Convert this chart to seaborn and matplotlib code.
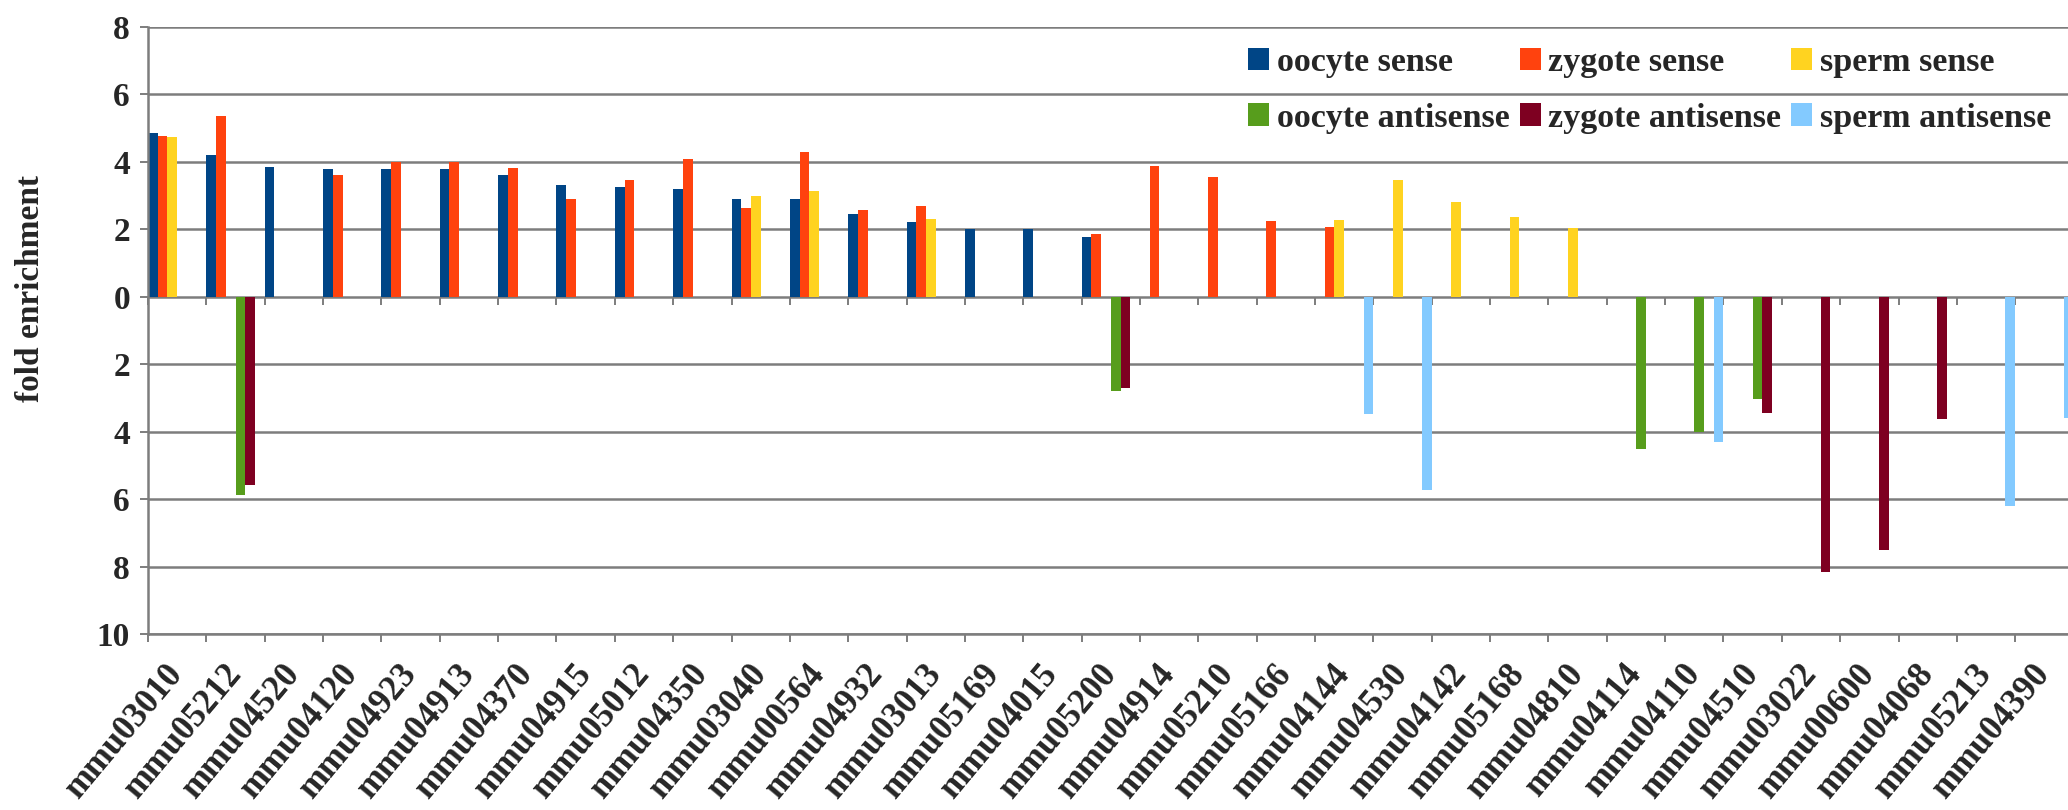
import matplotlib
matplotlib.use('Agg')
import matplotlib.pyplot as plt
import numpy as np
import pandas as pd
import seaborn as sns
from matplotlib.patches import Patch
from matplotlib.ticker import FuncFormatter

sns.set_style('white')
plt.rcParams['font.family'] = ['Liberation Serif', 'DejaVu Serif']
plt.rcParams['font.weight'] = 'bold'
plt.rcParams['font.size'] = 24

nan = np.nan

pathways = ['mmu03010', 'mmu05212', 'mmu04520', 'mmu04120', 'mmu04923', 'mmu04913',
            'mmu04370', 'mmu04915', 'mmu05012', 'mmu04350', 'mmu03040', 'mmu00564',
            'mmu04932', 'mmu03013', 'mmu05169', 'mmu04015', 'mmu05200', 'mmu04914',
            'mmu05210', 'mmu05166', 'mmu04144', 'mmu04530', 'mmu04142', 'mmu05168',
            'mmu04810', 'mmu04114', 'mmu04110', 'mmu04510', 'mmu03022', 'mmu00600',
            'mmu04068', 'mmu05213', 'mmu04390']

# sense = above zero, antisense = below zero
oocyte_sense = [4.87, 4.21, 3.85, 3.80, 3.80, 3.79, 3.60, 3.31, 3.26, 3.20, 2.90, 2.90,
                2.45, 2.23, 2.02, 2.02, 1.77, nan, nan, nan, nan, nan, nan, nan,
                nan, nan, nan, nan, nan, nan, nan, nan, nan]
zygote_sense = [4.77, 5.35, nan, 3.62, 4.01, 4.01, 3.82, 2.91, 3.46, 4.09, 2.64, 4.28,
                2.58, 2.70, nan, nan, 1.87, 3.89, 3.56, 2.26, 2.07, nan, nan, nan,
                nan, nan, nan, nan, nan, nan, nan, nan, nan]
sperm_sense = [4.75, nan, nan, nan, nan, nan, nan, nan, nan, nan, 3.00, 3.15,
               nan, 2.32, nan, nan, nan, nan, nan, nan, 2.29, 3.45, 2.80, 2.37,
               2.05, nan, nan, nan, nan, nan, nan, nan, nan]
oocyte_antisense = [nan, -5.87, nan, nan, nan, nan, nan, nan, nan, nan, nan, nan,
                    nan, nan, nan, nan, -2.80, nan, nan, nan, nan, nan, nan, nan,
                    nan, -4.52, -4.00, -3.02, nan, nan, nan, nan, nan]
zygote_antisense = [nan, -5.58, nan, nan, nan, nan, nan, nan, nan, nan, nan, nan,
                    nan, nan, nan, nan, -2.70, nan, nan, nan, nan, nan, nan, nan,
                    nan, nan, nan, -3.45, -8.17, -7.50, -3.62, nan, nan]
sperm_antisense = [nan, nan, nan, nan, nan, nan, nan, nan, nan, nan, nan, nan,
                   nan, nan, nan, nan, nan, nan, nan, nan, -3.47, -5.72, nan, nan,
                   nan, nan, -4.31, nan, nan, nan, nan, -6.20, -3.60]

series_names = ['oocyte sense', 'zygote sense', 'sperm sense',
                'oocyte antisense', 'zygote antisense', 'sperm antisense']
series_colors = ['#004586', '#FF420E', '#FFD320', '#579D1C', '#7E0021', '#83CAFF']
series_values = [oocyte_sense, zygote_sense, sperm_sense,
                 oocyte_antisense, zygote_antisense, sperm_antisense]

rows = []
for name, vals in zip(series_names, series_values):
    for p, v in zip(pathways, vals):
        if not np.isnan(v):
            rows.append({'pathway': p, 'series': name, 'fold': v})
df = pd.DataFrame(rows)

W, H = 2068, 810
fig = plt.figure(figsize=(W / 100, H / 100), dpi=100)
ax = fig.add_axes([148 / W, 1 - 634 / H, 33 * 58.35 / W, (634 - 27) / H])

sns.barplot(data=df, x='pathway', y='fold', hue='series', order=pathways,
            hue_order=series_names, palette=series_colors, width=1.0, gap=0,
            dodge=True, errorbar=None, saturation=1, linewidth=0, legend=False, ax=ax)

grey = '#7d7d7d'
ax.set_xlim(-0.5, 32.5)
ax.set_ylim(-10, 8)
ax.set_axisbelow(True)
ax.set_yticks(range(-10, 9, 2))
ax.yaxis.set_major_formatter(FuncFormatter(lambda v, p: f'{abs(int(round(v)))}'))
ax.yaxis.grid(True, color=grey, linewidth=1.8)
ax.xaxis.grid(False)
for s in ['top', 'right']:
    ax.spines[s].set_visible(False)
for s in ['left', 'bottom']:
    ax.spines[s].set_color(grey)
    ax.spines[s].set_linewidth(1.8)

ax.tick_params(axis='y', left=True, length=6, width=1.4, color=grey, pad=7, labelsize=24)
ax.set_xticks(range(len(pathways)))
ax.set_xticklabels(pathways, rotation=50, ha='right', va='center', rotation_mode='anchor')
ax.set_xticks(np.arange(-0.5, len(pathways), 1), minor=True)
ax.tick_params(axis='x', which='major', bottom=True, length=0, pad=25, labelsize=25)
ax.tick_params(axis='x', which='minor', bottom=True, length=6, width=1.4, color=grey)
ax.set_xlabel('')
ax.set_ylabel('')

# tick marks hanging below the zero line
sec = ax.secondary_xaxis(10 / 18)
sec.set_xticks(np.arange(-0.5, len(pathways), 1), labels=[])
sec.tick_params(axis='x', direction='in', length=6, width=1.4, color=grey)
for s in sec.spines.values():
    s.set_visible(False)

fig.text(31 / W, 1 - 288 / H, 'fold enrichment', rotation=90, ha='center', va='center', fontsize=24)

order = [0, 3, 1, 4, 2, 5]
handles = [Patch(facecolor=series_colors[i], edgecolor='none', label=series_names[i]) for i in order]
fig.legend(handles=handles, loc='upper left', bbox_to_anchor=(1248 / W, 1 - 47 / H), ncol=3,
           frameon=False, borderpad=0, borderaxespad=0, handlelength=0.62, handleheight=0.62,
           handletextpad=0.22, columnspacing=0.3, labelspacing=0.72, fontsize=24.5)

fig.savefig('out.png', dpi=100)
